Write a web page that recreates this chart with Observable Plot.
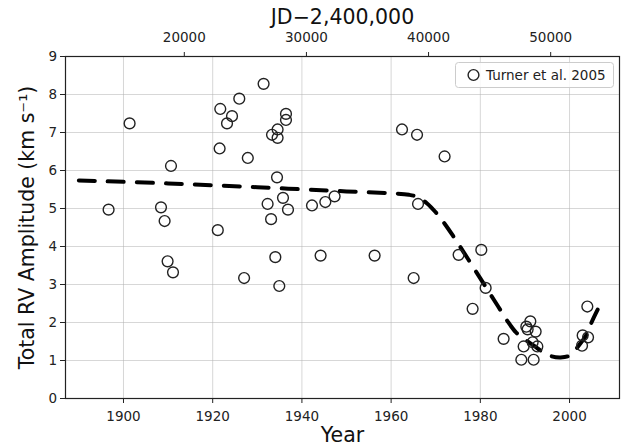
<!DOCTYPE html>
<html>
<head>
<meta charset="utf-8">
<script src="https://cdn.jsdelivr.net/npm/d3@7"></script>
<script src="https://cdn.jsdelivr.net/npm/@observablehq/plot@0.6"></script>
<style>
  html, body { margin: 0; padding: 0; background: #fff; }
  #chart { width: 624px; height: 445px; }
</style>
</head>
<body>
<div id="chart"></div>
<script>
// Observed total radial-velocity amplitudes (Turner et al. 2005)
const obsYear = [
  1896.66, 1901.37, 1908.41, 1909.22, 1909.89, 1911.10, 1910.65,
  1921.14, 1921.55, 1921.70, 1923.21, 1924.33, 1925.96, 1927.04, 1927.87,
  1931.41, 1932.31, 1933.09, 1933.30, 1934.04, 1934.42, 1934.55, 1934.55,
  1934.93, 1935.76, 1936.43, 1936.43, 1936.88,
  1942.26, 1944.19, 1945.25, 1947.33, 1956.30,
  1962.44, 1965.81, 1965.05, 1966.03, 1971.99, 1975.13,
  1980.22, 1981.19, 1978.27, 1985.22,
  1989.19, 1991.95, 1989.71, 1991.21, 1990.31, 1990.61, 1992.40, 1991.73, 1992.78,
  2002.94, 2004.15, 2002.80, 2003.99
];
const obsAmp = [
  4.97, 7.24, 5.03, 4.67, 3.61, 3.32, 6.12,
  4.43, 6.58, 7.62, 7.24, 7.43, 7.89, 3.17, 6.33,
  8.28, 5.12, 4.72, 6.94, 3.72, 5.82, 7.08, 6.86,
  2.96, 5.28, 7.49, 7.33, 4.97,
  5.08, 3.76, 5.17, 5.32, 3.76,
  7.08, 6.94, 3.17, 5.12, 6.37, 3.78,
  3.91, 2.91, 2.36, 1.57,
  1.02, 1.02, 1.37, 2.03, 1.89, 1.82, 1.76, 1.48, 1.37,
  1.66, 1.61, 1.39, 2.42
];

// Smooth trend through the amplitudes
const fitYear = [1890, 1910, 1930, 1950, 1960, 1964, 1966, 1968, 1970, 1972, 1974, 1976,
  1978, 1980, 1982, 1984, 1986, 1988, 1990, 1992, 1994, 1996, 1998, 2000, 2002, 2004, 2005, 2006.3];
const fitAmp = [5.74, 5.66, 5.56, 5.45, 5.40, 5.36, 5.30, 5.14, 4.90, 4.60, 4.26, 3.90,
  3.53, 3.16, 2.79, 2.42, 2.05, 1.74, 1.55, 1.39, 1.22, 1.11, 1.08, 1.13, 1.38, 1.72, 2.02, 2.34];

// Tick values
const yearTicks = [1900, 1920, 1940, 1960, 1980, 2000];
const ampTicks = [0, 1, 2, 3, 4, 5, 6, 7, 8, 9];
const jdTicks = [20000, 30000, 40000, 50000];

const seriesLabel = "Turner et al. 2005";
const xTitle = "Year";
const yTitle = "Total RV Amplitude (km s\u207B\u00B9)";
const topTitle = "JD\u22122,400,000";

// JD − 2,400,000 of 1900.0 is 15020; one year is 365.25 days
const jdToYear = jd => 1900 + (jd - 15020) / 365.25;
const yearToJd = yr => (yr - 1900) * 365.25 + 15020;

const obs = obsYear.map((x, i) => ({x, y: obsAmp[i]}));
const fit = fitYear.map((x, i) => ({x, y: fitAmp[i]}));

const gridStyle = {stroke: "#b0b0b0", strokeOpacity: 0.5, strokeWidth: 1};

const chart = Plot.plot({
  width: 624,
  height: 445,
  marginLeft: 65,
  marginRight: 5,
  marginTop: 56,
  marginBottom: 47,
  style: {fontFamily: "'DejaVu Sans', sans-serif", fontSize: "13.5px", color: "#222", background: "#fff"},
  x: {domain: [1887, 2011.2]},
  y: {domain: [0, 9]},
  marks: [
    Plot.gridX(yearTicks, gridStyle),
    Plot.gridY(ampTicks, gridStyle),
    Plot.axisX(yearTicks, {anchor: "bottom", tickSize: 5, tickPadding: 7.5, label: null, tickFormat: d => String(d)}),
    Plot.axisX(jdTicks.map(jdToYear), {anchor: "top", tickSize: 5, tickPadding: 10, label: null,
      tickFormat: d => String(Math.round(yearToJd(d)))}),
    Plot.axisY(ampTicks, {anchor: "left", tickSize: 5, tickPadding: 3.5, label: null, tickFormat: d => String(d)}),
    Plot.frame({stroke: "#222", strokeWidth: 1.2}),
    Plot.line(fit, {x: "x", y: "y", stroke: "#000", strokeWidth: 4, strokeDasharray: "16,13", curve: "catmull-rom"}),
    Plot.dot(obs, {x: "x", y: "y", r: 5.4, stroke: "#222", strokeWidth: 1.4, fill: "none"}),
    Plot.text([xTitle], {frameAnchor: "bottom", dy: 43, fontSize: 20.5, fill: "#111"}),
    Plot.text([topTitle], {frameAnchor: "top", dy: -47, fontSize: 20.5, fill: "#111"}),
    Plot.text([yTitle], {frameAnchor: "left", textAnchor: "middle", dx: -38, rotate: -90, fontSize: 20.5, fill: "#111"})
  ]
});

document.getElementById("chart").appendChild(chart);

// Legend box in the upper-right corner of the frame
const svg = d3.select(chart);
const legend = svg.append("g").attr("font-family", "'DejaVu Sans', sans-serif");
legend.append("rect")
  .attr("x", 455.5).attr("y", 62.5).attr("width", 158).attr("height", 25)
  .attr("rx", 3).attr("fill", "#fff").attr("fill-opacity", 0.85)
  .attr("stroke", "#cccccc").attr("stroke-width", 1);
legend.append("circle")
  .attr("cx", 473.5).attr("cy", 75).attr("r", 5.4)
  .attr("fill", "none").attr("stroke", "#222").attr("stroke-width", 1.4);
legend.append("text")
  .attr("x", 486).attr("y", 75).attr("dy", "0.35em")
  .attr("text-anchor", "start")
  .attr("font-size", "13.5px").attr("fill", "#222")
  .text(seriesLabel);
</script>
</body>
</html>
